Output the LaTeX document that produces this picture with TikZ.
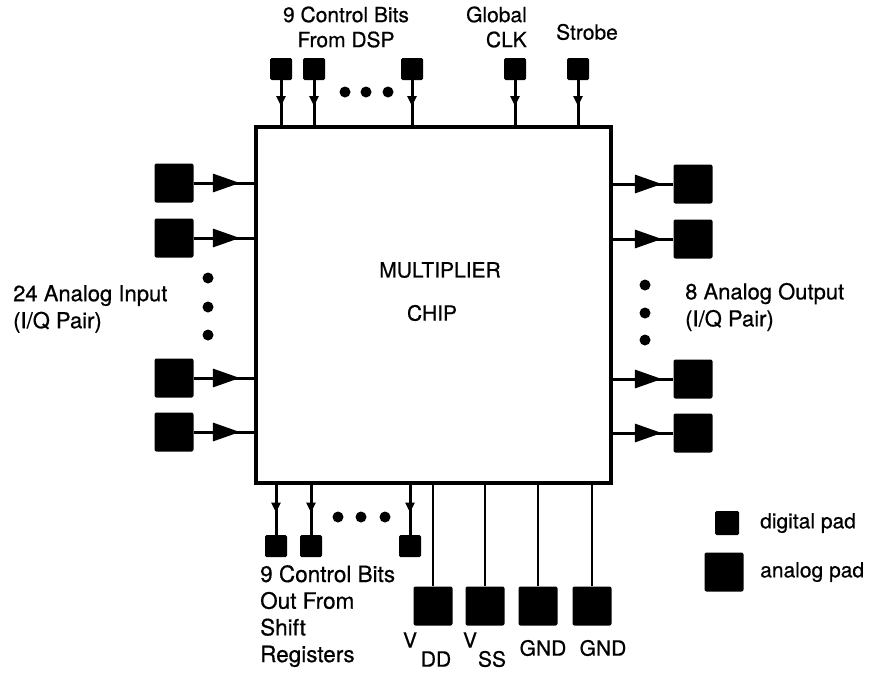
\documentclass[tikz,border=0pt]{standalone}
\usepackage{fontspec}
\setmainfont{TeX Gyre Heros}[FakeBold=0.6]
\usetikzlibrary{arrows.meta,decorations.markings}
\begin{document}
\begin{tikzpicture}[x=1pt,y=-1pt,
  dpad/.style={fill=black,minimum size=22pt,inner sep=0pt,rounded corners=1.5pt},
  apad/.style={fill=black,minimum size=39pt,inner sep=0pt,rounded corners=2pt},
  wire/.style={line width=3pt},
  pwire/.style={line width=2.6pt},
  lbl/.style={font=\fontsize{21}{25}\selectfont,inner sep=0pt},
  slbl/.style={font=\fontsize{22}{27}\selectfont,inner sep=0pt},
  blbl/.style={font=\fontsize{22.5}{26.7}\selectfont,inner sep=0pt},
  dot/.style={circle,fill=black,minimum size=11pt,inner sep=0pt},
  smallarr/.style={wire,decoration={markings,mark=at position #1 with {\arrow{Triangle[length=10pt,width=9pt]}}},postaction={decorate}},
  bigarr/.style={wire,decoration={markings,mark=at position #1 with {\arrow{Triangle[length=27pt,width=18pt]}}},postaction={decorate}},
]
\useasboundingbox (0,0) rectangle (874,675);

% chip
\node[draw,line width=4.5pt,minimum width=355pt,minimum height=356pt,inner sep=0pt] (chip) at (433.5,305) {};
\node[lbl] (mult) at (440,270) {MULTIPLIER};
\node[lbl] (chiptxt) at (432,313) {CHIP};

% top digital pads
\node[dpad] (t1) at (281,69) {};
\node[dpad] (t2) at (314,69) {};
\node[dpad] (t3) at (412,69) {};
\node[dpad] (clk) at (515,69) {};
\node[dpad] (stb) at (578,69) {};
\foreach \p in {t1,t2,t3,clk,stb}
  \draw[smallarr=0.58] (\p.south) -- (\p.south |- chip.north);
\node[dot] (td1) at (345,92) {};
\node[dot] (td2) at (366,92) {};
\node[dot] (td3) at (388,92) {};

\node[lbl,align=center] (toplbl) at (346,27) {9 Control Bits\\From DSP};
\node[lbl,align=right,anchor=east] (clklbl) at (527,27) {Global\\CLK};
\node[lbl] (stblbl) at (587,32) {Strobe};

% left analog inputs
\node[apad] (l1) at (174,183) {};
\node[apad] (l2) at (174,238) {};
\node[apad] (l3) at (174,378) {};
\node[apad] (l4) at (174,432) {};
\foreach \p in {l1,l2,l3,l4}
  \draw[bigarr=0.77] (\p.east) -- (\p.east -| chip.west);
\node[dot] (ld1) at (208,278) {};
\node[dot] (ld2) at (208,307) {};
\node[dot] (ld3) at (208,335) {};
\node[slbl,align=left,anchor=west] (inlbl) at (13,309) {24 Analog Input\\(I/Q Pair)};

% right analog outputs
\node[apad] (r1) at (693,184) {};
\node[apad] (r2) at (693,239) {};
\node[apad] (r3) at (693,379) {};
\node[apad] (r4) at (693,433) {};
\foreach \p in {r1,r2,r3,r4}
  \draw[bigarr=0.81] (\p.west -| chip.east) -- (\p.west);
\node[dot] (rd1) at (645,285) {};
\node[dot] (rd2) at (645,313) {};
\node[dot] (rd3) at (645,340) {};
\node[slbl,align=left,anchor=west] (outlbl) at (685,307) {8 Analog Output\\(I/Q Pair)};

% bottom digital outputs
\node[dpad] (b1) at (276,546) {};
\node[dpad] (b2) at (311,546) {};
\node[dpad] (b3) at (410,546) {};
\foreach \p in {b1,b2,b3}
  \draw[smallarr=0.55] (\p.north |- chip.south) -- (\p.north);
\node[dot] (bd1) at (338,517) {};
\node[dot] (bd2) at (361,517) {};
\node[dot] (bd3) at (385,517) {};
\node[blbl,align=left,anchor=north west] (botlbl) at (260,565) {9 Control Bits\\Out From\\Shift\\Registers};

% power pads
\node[apad] (vdd) at (433,606) {};
\node[apad] (vss) at (485,606) {};
\node[apad] (gnd1) at (538,606) {};
\node[apad] (gnd2) at (592,606) {};
\foreach \p in {vdd,vss,gnd1,gnd2}
  \draw[pwire] (\p.north |- chip.south) -- (\p.north);
\node[lbl] (vddv) at (410,640) {V};
\node[lbl] (vdds) at (436,659) {DD};
\node[lbl] (vssv) at (470,640) {V};
\node[lbl] (vsss) at (492,659) {SS};
\node[lbl] (gnd1l) at (543,648) {GND};
\node[lbl] (gnd2l) at (603,648) {GND};

% legend
\node[dpad,minimum size=24pt] (legd) at (727,523) {};
\node[lbl,anchor=west] (legdl) at (760,523) {digital pad};
\node[apad] (lega) at (724,572) {};
\node[lbl,anchor=west] (legal) at (760,572) {analog pad};
\end{tikzpicture}
\end{document}
